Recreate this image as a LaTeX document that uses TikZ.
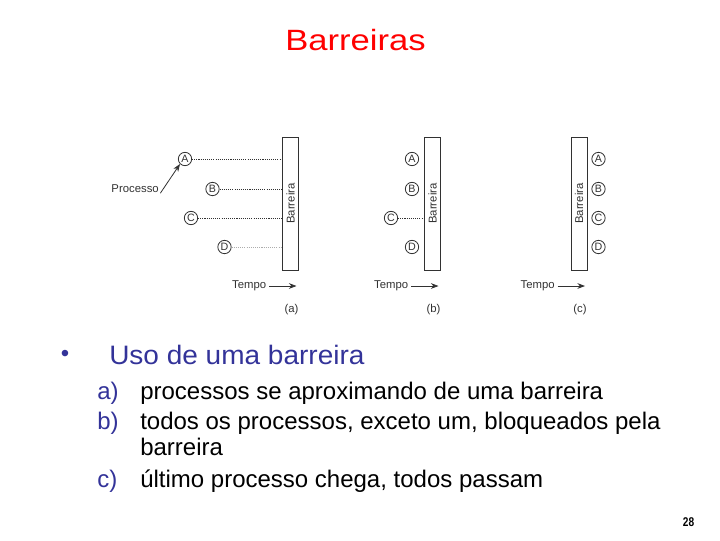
\documentclass[tikz,border=0pt]{standalone}
\usepackage{fontspec}
\setmainfont{Liberation Sans}
\usepackage{xcolor}
\usepackage{tikz}
\usetikzlibrary{arrows.meta}
\definecolor{azulslide}{RGB}{51,51,153}
\definecolor{cinzafig}{RGB}{50,50,50}

\begin{document}
\begin{tikzpicture}[>=Stealth, x=0.75pt, y=-0.75pt,
	proc/.style={circle,draw=cinzafig,line width=0.6pt,inner sep=0pt,minimum size=10pt,
		text=cinzafig,font=\fontsize{8}{9}\selectfont},
	barreira/.style={rectangle,draw=cinzafig,line width=0.6pt,inner sep=0pt,
		minimum width=12pt,minimum height=99.75pt},
	espera/.style={cinzafig,line width=0.6pt,dash pattern=on 0.8pt off 0.8pt},
	rotulo/.style={text=cinzafig,font=\fontsize{8.5}{10}\selectfont,inner sep=0pt}]
	\useasboundingbox (0,0) rectangle (720,540);
	
	\node[anchor=base,text=red,font=\fontsize{22}{26}\selectfont] (titulo) at (355.5,50)
	{\scalebox{1.18}[1]{Barreiras}};
	
	% as tres barreiras
	\foreach \p/\x in {a/290.5,b/432.5,c/579}{
		\node[barreira] (bar\p) at (\x,203.5) {};
		\node[rotulo,rotate=90] at (bar\p.center) {Barreira};
		\node[rotulo,anchor=east] (tempo\p) at (\x-24,286) {Tempo};
		\coordinate (fim\p) at (\x+6,286);
		\draw[->,cinzafig,line width=0.6pt] ([xshift=2pt]tempo\p.east) -- (fim\p);
		\node[rotulo] (leg\p) at (\x+1,310) {(\p)};
	}
	
	% processos
	\foreach \p/\n/\x/\y in {a/A/185/159,a/B/212.5/189,a/C/191/218,a/D/224.5/247,
		b/A/412/159,b/B/412/189,b/C/391/218,b/D/412/247,
		c/A/598.5/159,c/B/598.5/189,c/C/598.5/218,c/D/598.5/247}{
		\node[proc] (\p\n) at (\x,\y) {\n};
	}
	
	\foreach \n in {A,B,C}{
		\draw[espera] (a\n.east) -- (bara.west |- a\n.east);}
	\draw[espera,draw=cinzafig!40] (aD.east) -- (bara.west |- aD.east);
	\draw[espera] (bC.east) -- (barb.west |- bC.east);
	
	\node[rotulo,anchor=east] (processo) at (159,189) {Processo};
	\draw[->,cinzafig,line width=0.6pt] ([xshift=1pt]processo.south east) -- (aA.south west);
	
	% texto do slide
	\node[text=azulslide,font=\fontsize{18}{22}\selectfont,inner sep=0pt] (bala) at (65,356) {\textbullet};
	\node[anchor=base west,text=azulslide,font=\fontsize{20}{24}\selectfont,inner sep=0pt] (uso) at (109,364)
	{\scalebox{1.05}[1]{Uso de uma barreira}};
	
	\foreach \i/\y/\lab/\txt in {1/399/a)/{processos se aproximando de uma barreira},
		2/429/b)/{todos os processos, exceto um, bloqueados pela},
		3/455//{barreira},
		4/487/c)/{último processo chega, todos passam}}{
		\node[anchor=base west,text=azulslide,font=\fontsize{18}{21}\selectfont,inner sep=0pt] (rot\i) at (97,\y) {\lab};
		\node[anchor=base west,font=\fontsize{18}{21}\selectfont,inner sep=0pt] (item\i) at (140,\y) {\txt};
	}
	
	\node[anchor=base,font=\fontsize{9.5}{11}\selectfont\bfseries] (pagina) at (688.5,526)
	{\scalebox{0.8}[1]{28}};
\end{tikzpicture}
\end{document}
